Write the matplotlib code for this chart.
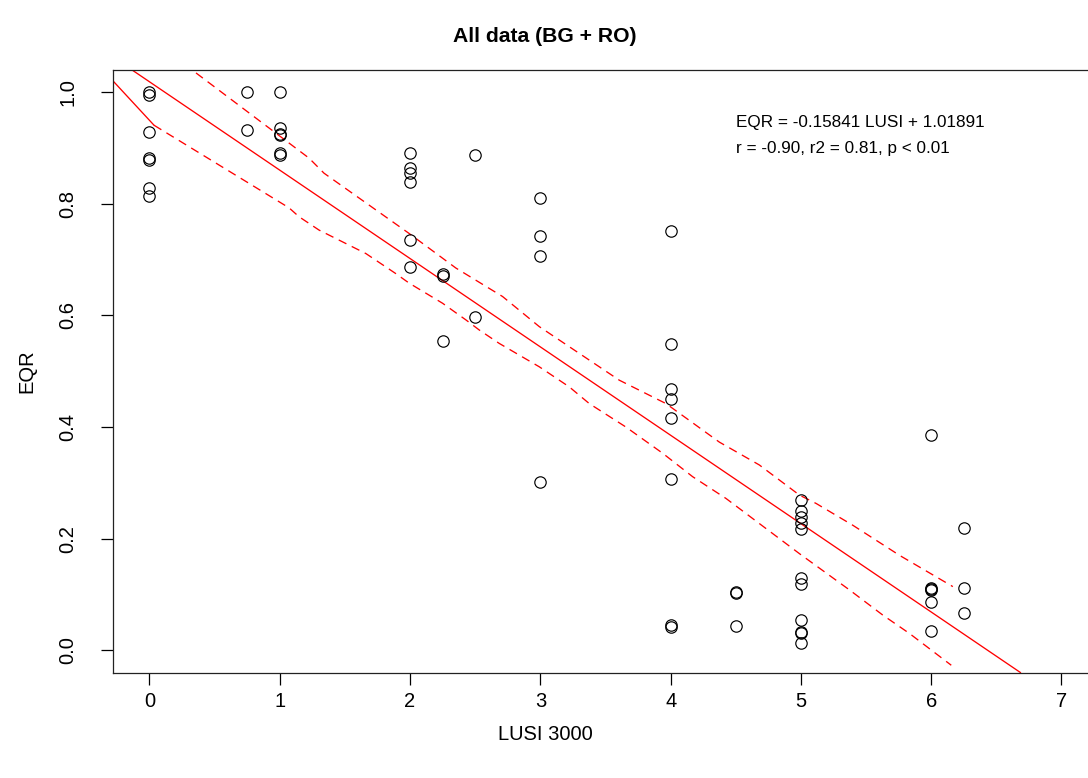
import matplotlib
matplotlib.use("Agg")
import matplotlib.pyplot as plt

plt.rcParams["font.family"] = ["Liberation Sans", "DejaVu Sans"]

# ---------------------------------------------------------
# data
# ---------------------------------------------------------
lusi = ([0] * 7 + [0.75] * 2 + [1] * 6 + [2] * 6 + [2.25] * 3 + [2.5] * 2
        + [3] * 4 + [4] * 8 + [4.5] * 3 + [5] * 11 + [6] * 6 + [6.25] * 3)
eqr = [1.0, 0.995, 0.928, 0.883, 0.879, 0.828, 0.814,
       1.0, 0.932,
       1.0, 0.936, 0.926, 0.923, 0.891, 0.888,
       0.892, 0.865, 0.856, 0.840, 0.735, 0.687,
       0.674, 0.670, 0.554,
       0.888, 0.597,
       0.810, 0.742, 0.706, 0.301,
       0.752, 0.548, 0.468, 0.451, 0.417, 0.306, 0.045, 0.042,
       0.104, 0.102, 0.043,
       0.270, 0.250, 0.239, 0.228, 0.217, 0.130, 0.118, 0.054, 0.032, 0.030, 0.013,
       0.386, 0.111, 0.109, 0.107, 0.086, 0.035,
       0.219, 0.112, 0.066]

slope = -0.15841
intercept = 1.01891

upper_x = [0.0, 0.316, 1.225, 1.340, 1.993, 2.352, 2.710, 2.992, 3.299, 3.606,
           3.965, 4.374, 4.681, 4.989, 5.117, 5.398, 5.757, 6.166]
upper_y = [1.097, 1.042, 0.882, 0.855, 0.747, 0.685, 0.634, 0.580, 0.532, 0.484,
           0.442, 0.373, 0.332, 0.278, 0.263, 0.224, 0.170, 0.114]

lower_x = [0.035, 1.071, 1.148, 1.302, 1.661, 1.891, 1.993, 2.249, 2.429, 2.531,
           2.684, 2.992, 3.222, 3.376, 3.657, 3.939, 4.169, 4.425, 4.681, 4.989,
           5.373, 5.628, 5.833, 6.154]
lower_y = [0.941, 0.793, 0.777, 0.753, 0.711, 0.675, 0.658, 0.622, 0.592, 0.574,
           0.550, 0.508, 0.472, 0.442, 0.400, 0.353, 0.311, 0.272, 0.227, 0.173,
           0.108, 0.063, 0.030, -0.027]

# short solid piece at the left end of the lower band
stub_x = [-0.286, 0.035]
stub_y = [1.022, 0.941]

x_ticks = [0, 1, 2, 3, 4, 5, 6, 7]
y_ticks = [0.0, 0.2, 0.4, 0.6, 0.8, 1.0]

# ---------------------------------------------------------
# figure
# ---------------------------------------------------------
fig = plt.figure(figsize=(10.88, 7.78), dpi=100)
fig.patch.set_facecolor("white")
ax = fig.add_axes([0.10386, 0.1356, 0.9053, 0.7744])

ax.plot(lusi, eqr, linestyle="none", marker="o", markersize=8.2,
        markerfacecolor="none", markeredgecolor="black", markeredgewidth=0.85,
        zorder=3)

ax.axline((0, intercept), slope=slope, color="red", linewidth=0.95, zorder=2)
ax.plot(upper_x, upper_y, color="red", linewidth=0.95, dashes=(6.5, 4.5), zorder=2)
ax.plot(lower_x, lower_y, color="red", linewidth=0.95, dashes=(6.5, 4.5), zorder=2)
ax.plot(stub_x, stub_y, color="red", linewidth=0.95, zorder=2)

ax.text(4.5, 0.946, "EQR = -0.15841 LUSI + 1.01891", fontsize=12.3,
        ha="left", va="center")
ax.text(4.5, 0.899, "r = -0.90, r2 = 0.81, p < 0.01", fontsize=12.3,
        ha="left", va="center")

ax.set_xlim(-0.28, 7.28)
ax.set_ylim(-0.04, 1.04)
ax.set_xticks(x_ticks)
ax.set_xticklabels([str(t) for t in x_ticks])
ax.set_yticks(y_ticks)
ax.set_yticklabels([f"{t:.1f}" for t in y_ticks], rotation=90, va="center")
ax.tick_params(axis="x", length=8.6, width=0.9, pad=5.4, labelsize=14.5)
ax.tick_params(axis="y", length=8.6, width=0.9, pad=17.0, labelsize=14.5)
for spine in ax.spines.values():
    spine.set_linewidth(0.9)
    spine.set_color("#222222")

fig.text(545 / 1088, 1 - 36 / 778, "All data (BG + RO)", fontsize=15.2,
         fontweight="bold", ha="center", va="center")
fig.text(545 / 1088, 1 - 735 / 778, "LUSI 3000", fontsize=14.5,
         ha="center", va="center")
fig.text(27 / 1088, 1 - 371 / 778, "EQR", fontsize=14.5, rotation=90,
         ha="center", va="center")

fig.savefig("out.png", dpi=100, facecolor="white")
